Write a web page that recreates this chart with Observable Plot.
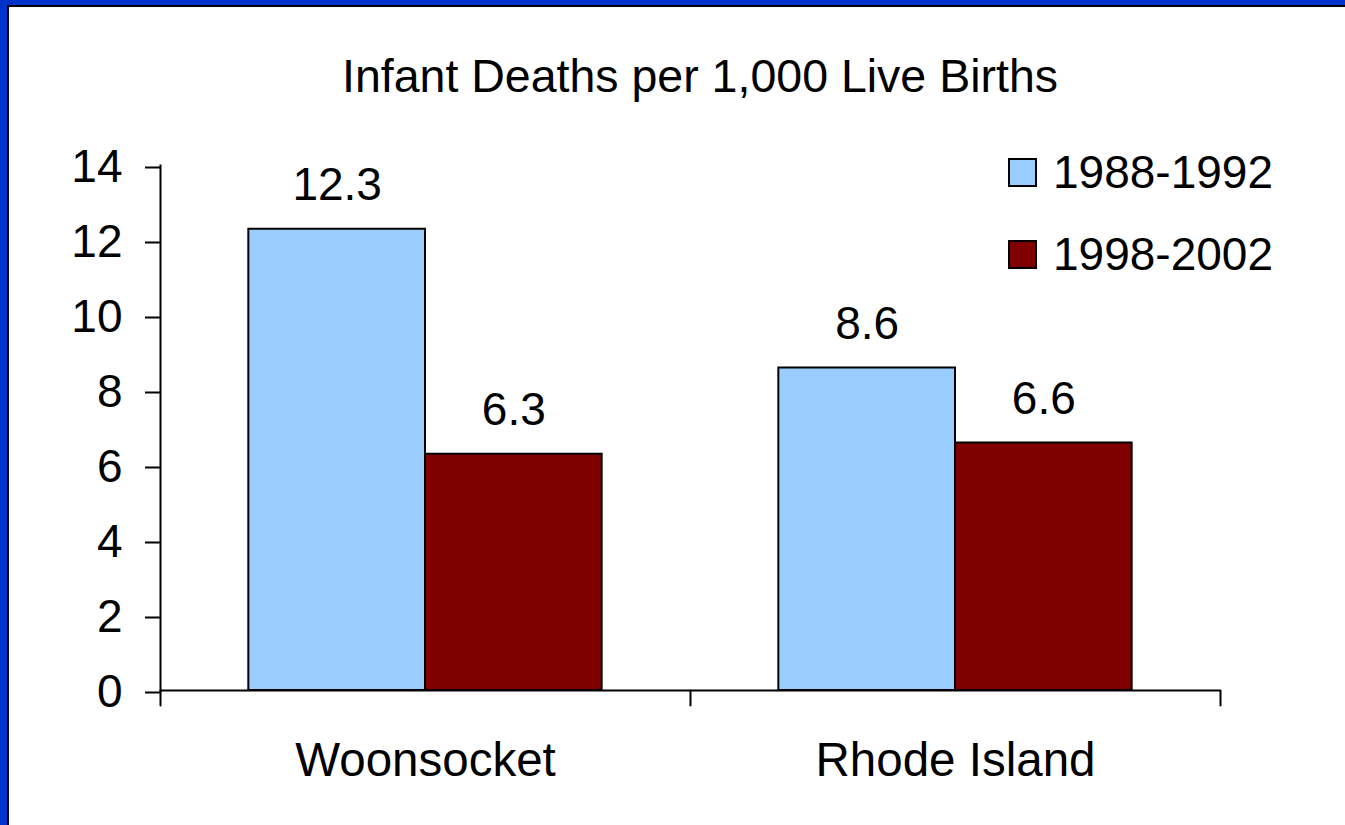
<!DOCTYPE html>
<html>
<head>
<meta charset="utf-8">
<script src="https://cdn.jsdelivr.net/npm/d3@7"></script>
<script src="https://cdn.jsdelivr.net/npm/@observablehq/plot@0.6"></script>
<style>
html, body { margin: 0; padding: 0; background: #fff; }
#page { position: relative; width: 1345px; height: 825px; overflow: hidden; background: #fff;
  font-family: "Liberation Sans", Arial, sans-serif; color: #000; }
#blueL { position: absolute; left: 0; top: 0; width: 7px; height: 825px; background: #0033cc; }
#blueT { position: absolute; left: 0; top: 0; width: 1345px; height: 5px; background: #0033cc; }
#blackL { position: absolute; left: 7px; top: 5px; width: 2px; height: 820px; background: #000; }
#blackT { position: absolute; left: 7px; top: 5px; width: 1338px; height: 2px; background: #000; }
#title { position: absolute; left: 0; top: 53px; width: 1345px; box-sizing: border-box; padding-left: 55px;
  text-align: center; font-size: 46.5px; line-height: 46px; }
#chart { position: absolute; left: 0; top: 110px; line-height: 0; }
#legend { position: absolute; left: 1008px; top: 149px; }
.row { display: flex; align-items: center; height: 46px; margin-bottom: 36px; font-size: 46px; line-height: 46px; }
.sw { width: 25px; height: 25px; border: 2px solid #000; margin-right: 16px; box-sizing: content-box; }
</style>
</head>
<body>
<div id="page">
  <div id="blueL"></div><div id="blueT"></div><div id="blackL"></div><div id="blackT"></div>
  <div id="title">Infant Deaths per 1,000 Live Births</div>
  <div id="chart"></div>
  <div id="legend"></div>
</div>
<script>
// ---- data ----
const categories = ["Woonsocket", "Rhode Island"];
const series = ["1988-1992", "1998-2002"];
const values1988 = [12.3, 8.6];
const values1998 = [6.3, 6.6];
const seriesColors = ["#99ccff", "#800000"];
const yTicks = [0, 2, 4, 6, 8, 10, 12, 14];

const seriesValues = [values1988, values1998];
const rows = [];
categories.forEach((c, i) => {
  series.forEach((s, j) => rows.push({category: c, series: s, value: seriesValues[j][i]}));
});

const tickShape = {draw(context, l) { context.moveTo(0, 0); context.lineTo(0, -l); }};

const plot = Plot.plot({
  width: 1345,
  height: 715,
  marginLeft: 160,
  marginRight: 125,
  marginTop: 55,
  marginBottom: 135,
  style: {fontFamily: "'Liberation Sans', Arial, sans-serif", fontSize: "46px", color: "#000", background: "transparent", overflow: "visible"},
  fx: {domain: categories, padding: 0, round: false, label: null},
  x: {domain: series, paddingInner: 0, paddingOuter: 0.5, round: false, axis: null},
  y: {domain: [0, 14], axis: null},
  color: {domain: series, range: seriesColors},
  marks: [
    Plot.barY(rows, {fx: "category", x: "series", y: "value", fill: "series", stroke: "#000", strokeWidth: 2}),
    Plot.ruleY([0], {stroke: "#000", strokeWidth: 2}),
    Plot.frame({anchor: "left", facetAnchor: "left", stroke: "#000", strokeWidth: 2}),
    Plot.axisY({ticks: yTicks, tickSize: 15, tickPadding: 23, strokeWidth: 2, label: null, dy: 2}),
    Plot.axisFx({anchor: "bottom", tickSize: 0, tickPadding: 52, label: null, fontSize: 47.5}),
    Plot.vector(categories, {fx: d => d, frameAnchor: "bottom-left", rotate: 180, length: 15, anchor: "start",
      shape: tickShape, fill: "none", stroke: "#000", strokeWidth: 2}),
    Plot.vector(categories.slice(-1), {fx: d => d, frameAnchor: "bottom-right", rotate: 180, length: 15, anchor: "start",
      shape: tickShape, fill: "none", stroke: "#000", strokeWidth: 2}),
    Plot.text(rows, {fx: "category", x: "series", y: "value", text: d => d3.format(".1f")(d.value), dy: -44, fill: "#000"})
  ]
});
document.getElementById("chart").appendChild(plot);

const legend = document.getElementById("legend");
series.forEach((s, i) => {
  const row = document.createElement("div");
  row.className = "row";
  const sw = document.createElement("div");
  sw.className = "sw";
  sw.style.background = seriesColors[i];
  const lab = document.createElement("span");
  lab.textContent = s;
  row.appendChild(sw);
  row.appendChild(lab);
  legend.appendChild(row);
});
</script>
</body>
</html>
